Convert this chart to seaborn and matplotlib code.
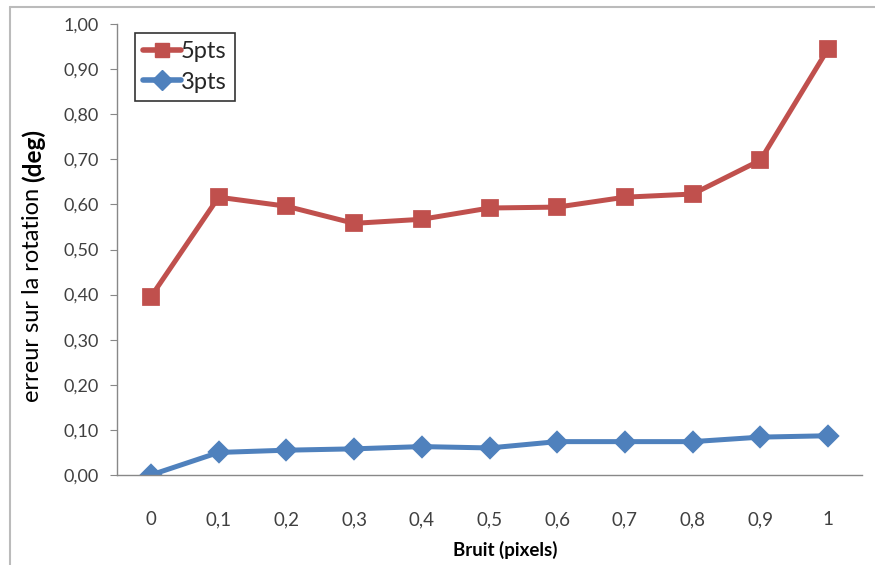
"""Erreur sur la rotation en fonction du bruit (5pts vs 3pts)."""
import matplotlib
matplotlib.use("Agg")
import matplotlib.pyplot as plt
import pandas as pd
import seaborn as sns
from matplotlib.lines import Line2D

BRUIT = ["0", "0,1", "0,2", "0,3", "0,4", "0,5", "0,6", "0,7", "0,8", "0,9", "1"]
ERR_5PTS = [0.395, 0.616, 0.596, 0.558, 0.567, 0.592, 0.594, 0.616, 0.623, 0.698, 0.945]
ERR_3PTS = [0.000, 0.050, 0.055, 0.058, 0.063, 0.060, 0.074, 0.074, 0.074, 0.084, 0.087]
SERIES = ["5pts", "3pts"]
COLORS = {"5pts": "#C0504D", "3pts": "#4F81BD"}
MARKERS = ["s", "D"]
Y_TICKS = [i / 10 for i in range(11)]

df = pd.concat([
    pd.DataFrame({"bruit": BRUIT, "err": ERR_5PTS, "serie": "5pts"}),
    pd.DataFrame({"bruit": BRUIT, "err": ERR_3PTS, "serie": "3pts"}),
])

sns.set_theme(style="white")
plt.rcParams["font.family"] = ["Lato", "DejaVu Sans"]

W, H = 875, 565
fig = plt.figure(figsize=(W / 100, H / 100), dpi=100)
ax = fig.add_axes([117 / W, 1 - 475 / H, (862 - 117) / W, (475 - 24) / H])

sns.pointplot(data=df, x="bruit", y="err", hue="serie", order=BRUIT, hue_order=SERIES,
              palette=COLORS, markers=MARKERS, linestyles="-", ax=ax,
              linewidth=3.6, markersize=9.5, legend=False)

ax.set_xlim(-0.5, len(BRUIT) - 0.5)
ax.set_ylim(0, 1.0)
ax.set_yticks(Y_TICKS)
ax.set_yticklabels([f"{v:.2f}".replace(".", ",") for v in Y_TICKS])
ax.set_xticks(range(len(BRUIT)))
ax.set_xticklabels(BRUIT)
ax.set_xlabel("")
ax.set_ylabel("")

for side in ["top", "right"]:
    ax.spines[side].set_visible(False)
for side in ["left", "bottom"]:
    ax.spines[side].set_color("#888888")
    ax.spines[side].set_linewidth(1)
ax.tick_params(axis="y", which="major", left=True, length=5, width=0.8, color="#888888",
               pad=8, labelsize=13, labelcolor="#404040")
ax.tick_params(axis="x", which="major", bottom=False, pad=20, labelsize=13.5,
               labelcolor="#404040")

handles = [Line2D([], [], color=COLORS[s], marker=m, lw=4, ms=10) for s, m in zip(SERIES, MARKERS)]
leg = ax.legend(handles, SERIES, loc="upper left", bbox_to_anchor=(0.024, 0.98),
                frameon=True, fancybox=False, fontsize=17, handlelength=1.6,
                handletextpad=0.0, borderpad=0.35, labelspacing=0.4, borderaxespad=0)
leg.get_frame().set_edgecolor("black")
leg.get_frame().set_linewidth(1.2)

fig.text(505 / W, 1 - 550 / H, "Bruit (pixels)", ha="center", va="center",
         fontsize=13.5, fontweight="bold", color="black")

t1 = fig.text(33 / W, 1 - 402 / H, "erreur sur la rotation ", rotation=90,
              ha="center", va="bottom", fontsize=17, color="black")
fig.canvas.draw()
bb = t1.get_window_extent()
fig.text(33 / W, bb.y1 / H, "(deg)", rotation=90, ha="center", va="bottom",
         fontsize=17.5, fontweight="bold", color="black")

# chart area frame
fig.add_artist(Line2D([10 / W, 10 / W], [0, 1 - 7 / H], color="#BBBBBB", lw=1.5,
                      transform=fig.transFigure))
fig.add_artist(Line2D([10 / W, 1], [1 - 7 / H, 1 - 7 / H], color="#BBBBBB", lw=1.5,
                      transform=fig.transFigure))

fig.savefig("out.png", dpi=100)
